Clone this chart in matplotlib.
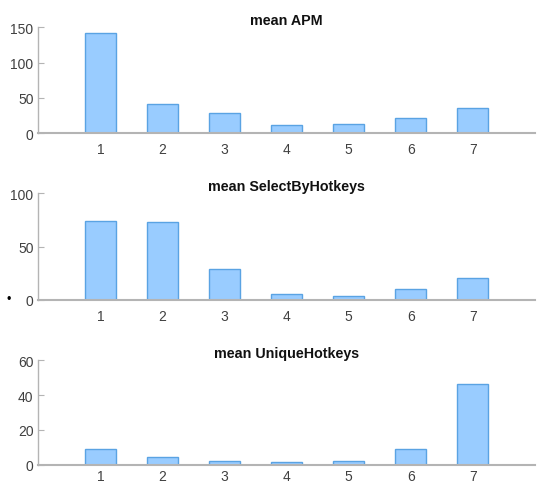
import matplotlib
matplotlib.use("Agg")
import matplotlib.pyplot as plt
import numpy as np

plt.rcParams['font.family'] = ['Liberation Sans', 'DejaVu Sans']

groups = [1, 2, 3, 4, 5, 6, 7]
titles = ["mean APM", "mean SelectByHotkeys", "mean UniqueHotkeys"]
mean_apm = [141.5, 41.0, 28.3, 12.3, 12.5, 21.2, 36.3]
mean_select_by_hotkeys = [74.3, 72.7, 29.2, 5.3, 3.8, 10.0, 20.7]
mean_unique_hotkeys = [8.7, 4.4, 1.9, 1.7, 1.9, 8.7, 46.3]
yticks_apm = [0, 50, 100, 150]
yticks_select = [0, 50, 100]
yticks_unique = [0, 20, 40, 60]

series = [mean_apm, mean_select_by_hotkeys, mean_unique_hotkeys]
yticks = [yticks_apm, yticks_select, yticks_unique]

W, H = 539, 485
fig = plt.figure(figsize=(W / 100, H / 100), dpi=100)

# axes boxes in pixels: (left, top, right, bottom)
boxes = [(38.3, 28.3, 535, 134.3),
         (38.3, 194.3, 535, 300.7),
         (38.3, 361.3, 535, 465.5)]
xpads = [6.5, 6.5, 3.0]

face = "#99ccff"
edge = "#5aa3e3"
axis_gray = "#b4b4b4"
text_gray = "#404040"

for vals, ticks, title, (l, t, r, b), xpad in zip(series, yticks, titles, boxes, xpads):
    ax = fig.add_axes([l / W, 1 - b / H, (r - l) / W, (b - t) / H])
    ax.bar(groups, vals, width=0.5, color=face, edgecolor=edge, linewidth=1.0, zorder=2)
    ax.set_xlim(0, 8)
    ax.set_ylim(ticks[0], ticks[-1])
    ax.set_xticks(groups)
    ax.set_yticks(ticks)
    for s in ("top", "right"):
        ax.spines[s].set_visible(False)
    ax.spines["left"].set_color(axis_gray)
    ax.spines["left"].set_linewidth(1.0)
    ax.spines["bottom"].set_color(axis_gray)
    ax.spines["bottom"].set_linewidth(1.5)
    ax.spines["bottom"].set_zorder(3)
    ax.tick_params(axis="y", direction="in", length=4, color=axis_gray,
                   labelsize=10, labelcolor=text_gray, pad=3.5)
    ax.tick_params(axis="x", length=0, labelsize=10, labelcolor=text_gray, pad=xpad)
    ax.set_title(title, fontsize=10.3, fontweight="bold", color="#111111", pad=1.5)

fig.text(8.5 / W, 1 - 300 / H, "\u2022", fontsize=9, ha="center", va="center", color="black")

fig.savefig("out.png", dpi=100)
